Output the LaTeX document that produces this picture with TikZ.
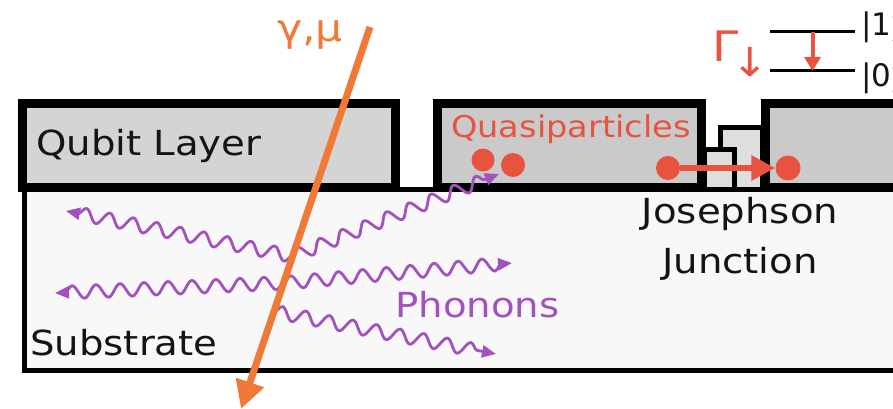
\documentclass[tikz,border=0pt]{standalone}
\usepackage{fontspec}
\setmainfont{DejaVu Sans}
\usepackage{graphicx}
\usetikzlibrary{arrows.meta,decorations.pathmorphing,calc}

\definecolor{qbfill}{HTML}{D4D4D4}
\definecolor{qbfilldark}{HTML}{CACACA}
\definecolor{jjfill}{HTML}{DEDEDE}
\definecolor{subfill}{HTML}{F8F8F8}
\definecolor{trackcol}{HTML}{EF7A38}
\definecolor{qpred}{HTML}{E8533F}
\definecolor{phononcol}{HTML}{A352BD}
\definecolor{ink}{HTML}{141414}

% slightly widened lettering
\newcommand{\wtext}[1]{\scalebox{1.12}[1]{#1}}

\begin{document}
\begin{tikzpicture}[x=1pt,y=-1pt,
  layerbox/.style={draw=black, line width=9pt, fill=qbfill},
  juncbox/.style={draw=black, line width=5pt, fill=jjfill},
  subbox/.style={draw=black, line width=5pt, fill=subfill},
  lbl/.style={inner sep=0pt, text=ink, font=\fontsize{34.5}{41}\selectfont},
  qplbl/.style={inner sep=0pt, text=qpred, font=\fontsize{30}{36}\selectfont},
  phlbl/.style={inner sep=0pt, text=phononcol, font=\fontsize{34.5}{41}\selectfont},
  qpdot/.style={circle, fill=qpred, inner sep=0pt, minimum size=23pt},
  qparrow/.style={draw=qpred, line width=6pt, -{Triangle[length=24pt,width=24pt]}},
  phonon/.style={draw=phononcol, line width=2.8pt, decorate,
    decoration={snake, amplitude=6.5pt, segment length=24pt, post length=9pt},
    -{Triangle[length=14pt,width=12pt]}},
  trackline/.style={draw=trackcol, line width=7pt, -{Triangle[length=28pt,width=28pt]}},
  levelline/.style={draw=black, line width=3pt},
  decayarrow/.style={draw=qpred, line width=4pt, -{Triangle[length=14pt,width=16pt]}},
]
\useasboundingbox (0,0) rectangle (893,409);
\clip (0,0) rectangle (893,409);

% substrate
\draw[subbox] (24,189) rectangle (930,370.5);
\node[lbl, anchor=base west] (sub) at (30,355) {\wtext{Substrate}};

% Josephson junction (two overlapping electrodes)
\draw[juncbox] (720.5,127.5) rectangle (762,189);
\draw[juncbox] (704,149.5) rectangle (734.5,189);

% qubit layer electrodes
\draw[layerbox] (22.5,104) rectangle (395.5,187);
\draw[layerbox, fill=qbfilldark] (437.5,104) rectangle (701.5,187);
\draw[layerbox, fill=qbfilldark] (765,104) rectangle (930,187);
\node[lbl, anchor=base west] (qlayer) at (36,155) {\wtext{Qubit Layer}};
\node[qplbl, anchor=base west] (qplabel) at (451,137) {\wtext{Quasiparticles}};

\node[lbl, anchor=base] (jj1) at (740,223) {\wtext{Josephson}};
\node[lbl, anchor=base] (jj2) at (740,273) {\wtext{Junction}};

% particle track
\coordinate (trk0) at (370,27);
\coordinate (trk1) at (241,409);
\coordinate (src1) at ($(trk0)!0.60!(trk1)$);
\coordinate (src2) at ($(trk0)!0.67!(trk1)$);
\coordinate (src3) at ($(trk0)!0.745!(trk1)$);

% phonons
\coordinate (ph1) at (66,211);
\coordinate (ph2) at (499,174);
\coordinate (ph3) at (55,293);
\coordinate (ph4) at (512,263);
\coordinate (ph5) at (496,354);
\draw[phonon] (src1) -- (ph1);
\draw[phonon] (src1) -- (ph2);
\draw[phonon] (src2) -- (ph3);
\draw[phonon] (src2) -- (ph4);
\draw[phonon] (src3) -- (ph5);
\node[phlbl, anchor=base west] (phlabel) at (395,317) {\wtext{Phonons}};

\draw[trackline] (trk0) -- (trk1);
\node[inner sep=0pt, anchor=base west, text=trackcol, font=\fontsize{38}{44}\selectfont] (rad) at (277,42) {\wtext{γ,μ}};

% quasiparticles
\node[qpdot] (q1) at (483,160) {};
\node[qpdot, minimum size=24pt] (q2) at (513,165) {};
\node[qpdot, minimum size=24pt] (q3) at (668,168) {};
\node[qpdot, minimum size=25pt] (q4) at (788,168) {};
\draw[qparrow] (q3) -- (q4);

% qubit levels and decay
\coordinate (l1a) at (770,32);
\coordinate (l1b) at (855,32);
\coordinate (l0a) at (770,71);
\coordinate (l0b) at (855,71);
\draw[levelline] (l1a) -- (l1b);
\draw[levelline] (l0a) -- (l0b);
\draw[decayarrow] ($(l1a)!0.5!(l1b)$) -- ($(l0a)!0.5!(l0b)$);
\node[inner sep=0pt, anchor=base west, text=ink, font=\fontsize{31}{36}\selectfont] (k1) at (861,36) {|1$\rangle$};
\node[inner sep=0pt, anchor=base west, text=ink, font=\fontsize{31}{36}\selectfont] (k0) at (861,87) {|0$\rangle$};
\node[inner sep=0pt, anchor=base west, text=qpred, font=\fontsize{42}{48}\selectfont] (rate) at (712,62) {\wtext{Γ\kern-6pt\raisebox{-15pt}{\fontsize{40}{44}\selectfont ↓}}};
\end{tikzpicture}
\end{document}
